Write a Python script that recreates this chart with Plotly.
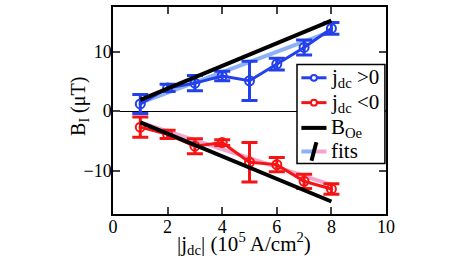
import plotly.graph_objects as go

# ---- data ----
j_dc = [1, 2, 3, 4, 5, 6, 7, 8]
b_pos = [1.2, 3.9, 4.7, 5.9, 5.1, 7.9, 10.7, 13.9]
b_pos_err = [1.6, 0.6, 1.3, 0.8, 3.3, 1.0, 1.25, 1.0]
b_neg = [-2.7, -3.9, -5.9, -5.3, -8.6, -9.0, -11.8, -13.1]
b_neg_err = [1.7, 0.7, 1.25, 0.5, 3.3, 1.2, 1.2, 0.9]

oe_x = [1, 8]
oe_pos = [1.9, 15.2]
oe_neg = [-1.9, -15.2]

fit_x = [1, 8]
fit_pos = [1.4, 13.4]
fit_neg = [-1.9, -12.4]

x_ticks = [0, 2, 4, 6, 8, 10]
y_ticks = [-10, 0, 10]

BLUE = "rgb(35,65,235)"
RED = "rgb(245,20,20)"
LBLUE = "rgb(140,178,245)"
PINK = "rgb(245,165,205)"
FONT = "Liberation Serif"

fig = go.Figure()

# fits
fig.add_trace(go.Scatter(x=fit_x, y=fit_pos, mode="lines",
                         line=dict(color=LBLUE, width=4), showlegend=False))
fig.add_trace(go.Scatter(x=fit_x, y=fit_neg, mode="lines",
                         line=dict(color=PINK, width=4), showlegend=False))

# data
for y, e, c in [(b_pos, b_pos_err, BLUE), (b_neg, b_neg_err, RED)]:
    fig.add_trace(go.Scatter(
        x=j_dc, y=y, mode="lines+markers",
        line=dict(color=c, width=3),
        marker=dict(symbol="circle-open-dot", size=9, color=c,
                    line=dict(width=2, color=c)),
        error_y=dict(type="data", array=e, visible=True, color=c,
                     thickness=3, width=8),
        showlegend=False))

# Oersted field
fig.add_trace(go.Scatter(x=oe_x, y=oe_pos, mode="lines",
                         line=dict(color="black", width=4), showlegend=False))
fig.add_trace(go.Scatter(x=oe_x, y=oe_neg, mode="lines",
                         line=dict(color="black", width=4), showlegend=False))

# ---- manual legend (paper coords) ----
L, R, T, B = 0.674, 0.996, 0.722, 0.244
shapes = [dict(type="rect", xref="paper", yref="paper", x0=L, x1=R, y0=B, y1=T,
               line=dict(color="black", width=1.5), fillcolor="white", layer="above")]
rows = [0.658, 0.538, 0.416, 0.302]
sx0, sx1 = 0.690, 0.782
sxm = (sx0 + sx1) / 2
shapes.append(dict(type="line", xref="paper", yref="paper", x0=sx0, x1=sx1,
                   y0=rows[0], y1=rows[0], line=dict(color=BLUE, width=3), layer="above"))
shapes.append(dict(type="line", xref="paper", yref="paper", x0=sx0, x1=sx1,
                   y0=rows[1], y1=rows[1], line=dict(color=RED, width=3), layer="above"))
shapes.append(dict(type="line", xref="paper", yref="paper", x0=sx0, x1=sx1,
                   y0=rows[2], y1=rows[2], line=dict(color="black", width=4), layer="above"))
shapes.append(dict(type="line", xref="paper", yref="paper", x0=sx0, x1=sxm,
                   y0=rows[3], y1=rows[3], line=dict(color=LBLUE, width=4), layer="above"))
shapes.append(dict(type="line", xref="paper", yref="paper", x0=sxm, x1=sx1,
                   y0=rows[3], y1=rows[3], line=dict(color=PINK, width=4), layer="above"))
shapes.append(dict(type="line", xref="paper", yref="paper", x0=sxm - 0.009, x1=sxm + 0.009,
                   y0=rows[3] - 0.045, y1=rows[3] + 0.045, line=dict(color="black", width=4),
                   layer="above"))
for yy, c in [(rows[0], BLUE), (rows[1], RED)]:
    shapes.append(dict(type="circle", xref="paper", yref="paper",
                       x0=sxm - 0.011, x1=sxm + 0.011, y0=yy - 0.014, y1=yy + 0.014,
                       line=dict(color=c, width=2), fillcolor="white", layer="above"))

labels = ["j<sub>dc</sub> >0", "j<sub>dc</sub> <0", "B<sub>Oe</sub>", "fits"]
annotations = []
for yy, t in zip(rows, labels):
    annotations.append(dict(xref="paper", yref="paper", x=0.792, y=yy, text=t,
                            showarrow=False, xanchor="left", yanchor="middle",
                            font=dict(family=FONT, size=21, color="black")))

# axis titles
annotations.append(dict(xref="paper", yref="paper", x=0.48, y=-0.142,
                        text="|j<sub>dc</sub>| (10<sup>5</sup> A/cm<sup>2</sup>)",
                        showarrow=False, xanchor="center", yanchor="middle",
                        font=dict(family=FONT, size=21, color="black")))
annotations.append(dict(xref="paper", yref="paper", x=-0.121, y=0.522,
                        text="B<sub>I</sub> (μT)", textangle=-90,
                        showarrow=False, xanchor="center", yanchor="middle",
                        font=dict(family=FONT, size=20, color="black")))

fig.update_layout(
    width=463, height=262,
    margin=dict(l=113, r=77, t=5, b=48),
    paper_bgcolor="white", plot_bgcolor="white",
    font=dict(family=FONT, size=18, color="black"),
    shapes=shapes, annotations=annotations,
    showlegend=False,
    xaxis=dict(range=[0, 10], tickvals=x_ticks, ticks="inside", ticklen=7,
               tickwidth=1.5, showline=True, linecolor="black", linewidth=1.5,
               mirror="ticks", showgrid=False, zeroline=False,
               ticklabelstandoff=-4),
    yaxis=dict(range=[-17.3, 17.5], tickvals=y_ticks, ticks="inside", ticklen=7,
               tickwidth=1.5, showline=True, linecolor="black", linewidth=1.5,
               mirror="ticks", showgrid=False, zeroline=True, zerolinecolor="black",
               zerolinewidth=1, ticklabelstandoff=-4),
)

fig.write_html("out.html", config={"displayModeBar": False},
               post_script="document.body.style.margin='0';")
